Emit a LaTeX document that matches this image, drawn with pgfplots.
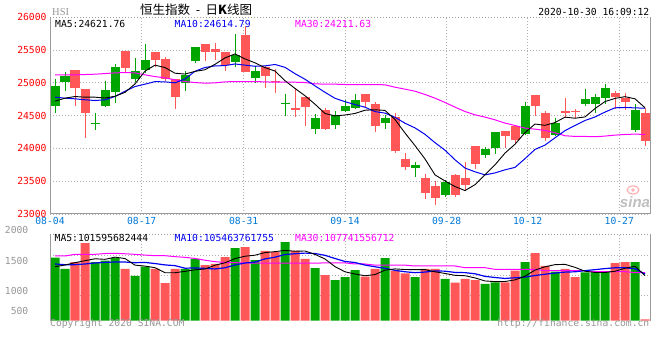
\documentclass[border=0pt]{standalone}
\usepackage{fontspec}
\usepackage{pgfplots}
\pgfplotsset{compat=1.18}
\usepackage{pgfplotstable}
\setmainfont{DejaVu Sans}
\newfontfamily\mono{DejaVu Sans Mono}
\newfontfamily\cjk{Noto Sans CJK SC}
\newfontfamily\hsifont{Liberation Serif}
\newfontfamily\logofont{Liberation Sans}
\newcommand\monof{\mono\fontsize{9.7bp}{11bp}\selectfont}
\definecolor{cgreen}{RGB}{0,165,0}
\definecolor{cred}{RGB}{255,87,87}
\definecolor{tickblue}{RGB}{0,120,215}
\definecolor{lgray}{RGB}{150,150,150}
\definecolor{gridgray}{RGB}{175,175,175}
\definecolor{framegray}{RGB}{155,155,155}
\definecolor{mablue}{RGB}{0,0,240}
\definecolor{mamag}{RGB}{255,0,255}

\pgfplotstableread{
i lo hi l h
0 24653 24957 24537 25059
1 25018 25105 24871 25160
4 24366 24381 24273 24542
5 24653 24892 24645 25023
6 24866 25241 24689 25287
8 25064 25181 25008 25378
9 25201 25348 25145 25591
13 25003 25115 24871 25176
14 25338 25551 25302 25551
18 25323 25424 25246 25743
20 25079 25176 24998 25252
23 24674 24689 24486 24821
26 24288 24461 24212 24527
28 24349 24511 24288 24572
29 24562 24648 24547 24740
30 24608 24740 24600 24831
33 24380 24461 24293 24511
36 23700 23751 23558 23797
39 23284 23492 23259 23513
43 23893 23994 23852 24020
44 23999 24253 23908 24253
47 24212 24648 24205 24704
50 24202 24390 24200 24461
53 24679 24755 24653 24907
54 24679 24785 24537 24826
55 24765 24927 24674 24978
58 24283 24587 24253 24679
}\upc

\pgfplotstableread{
i lo hi l h
2 24927 25196 24638 25196
3 24537 24907 24162 24907
7 25221 25490 25145 25490
10 25348 25470 25246 25470
11 25059 25368 25023 25388
12 24790 25054 24603 25054
15 25475 25591 25338 25591
16 25475 25520 25348 25606
17 25272 25470 25176 25470
19 25170 25728 25170 25860
21 25110 25236 24927 25262
22 25008 25023 24851 25216
24 24582 24613 24471 24927
25 24623 24785 24334 24785
27 24298 24587 24290 24618
31 24709 24831 24628 24831
32 24334 24679 24243 24709
34 23954 24481 23928 24542
35 23710 23842 23675 23923
37 23320 23553 23229 23604
38 23244 23431 23132 23502
40 23284 23599 23254 23614
41 23447 23553 23371 23791
42 23766 24040 23680 24040
45 24182 24268 24009 24268
46 24121 24344 24070 24344
48 24653 24816 24486 24816
49 24151 24542 24106 24567
51 24537 24572 24466 24770
52 24560 24575 24466 24603
56 24775 24851 24593 24876
57 24699 24770 24577 24841
59 24106 24542 24035 24613
}\downc

\pgfplotstableread{
i ma5 ma10 ma30
0 24719 24780 25120
1 24765 24765 25120
2 24790 24755 25120
3 24780 24740 25125
4 24780 24729 25130
5 24767 24740 25140
6 24794 24790 25150
7 24853 24871 25155
8 24982 24942 25150
9 25177 24978 25120
10 25268 25017 25094
11 25231 25013 25074
12 25145 24999 25044
13 25132 25057 25018
14 25173 25175 25003
15 25198 25233 24993
16 25281 25256 24998
17 25378 25261 25013
18 25439 25286 25018
19 25363 25268 25018
20 25303 25251 25018
21 25230 25256 25013
22 25178 25278 25008
23 25031 25235 25008
24 24913 25138 25008
25 24802 25053 25003
26 24673 24952 24983
27 24531 24854 24978
28 24495 24763 24978
29 24508 24711 24973
30 24532 24667 24973
31 24581 24627 24973
32 24588 24560 24973
33 24578 24537 24968
34 24440 24474 24932
35 24234 24383 24902
36 24042 24312 24871
37 23839 24214 24821
38 23596 24087 24765
39 23503 23972 24699
40 23418 23826 24628
41 23357 23700 24562
42 23447 23643 24511
43 23597 23596 24476
44 23749 23626 24435
45 23928 23673 24385
46 24063 23710 24349
47 24240 23843 24309
48 24371 23984 24293
49 24351 24050 24273
50 24393 24161 24238
51 24476 24270 24192
52 24459 24349 24182
53 24479 24425 24182
54 24606 24478 24177
55 24713 24553 24187
56 24761 24618 24202
57 24788 24623 24212
58 24755 24617 24217
59 24619 24612 24212
}\matab

\pgfplotstableread{
i v
0 1407
1 1154
4 1310
5 1340
6 1400
8 997
9 1205
13 1154
14 1378
18 1624
20 1355
23 1758
26 1176
28 907
29 974
30 1131
33 1400
36 974
39 930
43 818
44 855
47 1310
50 1094
53 1079
54 1079
55 1094
58 1310
}\upv

\pgfplotstableread{
i v
2 1310
3 1736
7 1154
10 1154
11 840
12 1154
15 1243
16 1266
17 1422
19 1646
21 1557
22 1534
24 1557
25 1378
27 1019
31 981
32 1154
34 1116
35 1057
37 1154
38 1154
40 847
41 930
42 907
45 855
46 1116
48 1512
49 1221
51 1154
52 974
56 1288
57 1310
59 27
}\downv

\pgfplotstableread{
i m5 m10 m30
0 1205 1266 1445
1 1243 1250 1445
2 1295 1250 1482
3 1340 1266 1482
4 1383 1288 1482
5 1370 1303 1500
6 1419 1310 1505
7 1388 1310 1495
8 1240 1295 1482
9 1219 1301 1465
10 1182 1276 1452
11 1070 1245 1452
12 1070 1229 1430
13 1101 1171 1415
14 1136 1178 1390
15 1154 1168 1350
16 1239 1155 1318
17 1293 1181 1300
18 1387 1244 1295
19 1440 1288 1290
20 1463 1308 1285
21 1521 1380 1285
22 1543 1418 1285
23 1570 1478 1285
24 1552 1496 1285
25 1557 1510 1285
26 1481 1501 1285
27 1378 1460 1290
28 1207 1389 1290
29 1091 1322 1290
30 1041 1299 1266
31 1002 1242 1266
32 1029 1204 1240
33 1128 1168 1240
34 1156 1124 1240
35 1142 1092 1240
36 1140 1071 1221
37 1140 1085 1221
38 1091 1110 1221
39 1054 1105 1221
40 1012 1077 1221
41 1003 1072 1183
42 954 1047 1183
43 886 989 1183
44 871 963 1146
45 873 942 1146
46 910 957 1146
47 991 972 1146
48 1130 1008 1146
49 1203 1037 1116
50 1251 1062 1116
51 1258 1084 1116
52 1191 1091 1116
53 1104 1117 1116
54 1076 1139 1094
55 1076 1163 1094
56 1103 1181 1094
57 1170 1181 1094
58 1216 1160 1072
59 1006 1041 1072
}\vmatab

\begin{document}
\begin{tikzpicture}
\useasboundingbox (0bp,0bp) rectangle (660bp,360bp);

% ---------- main candlestick panel ----------
\begin{axis}[
  at={(50bp,146bp)}, anchor=south west, scale only axis,
  width=600bp, height=196.9bp,
  xmin=-0.5, xmax=59.5, ymin=23000, ymax=26000,
  scaled x ticks=false, scaled y ticks=false,
  axis line style={draw=none},
  major tick length=0pt,
  xtick={-0.5,8.67,18.87,29,39.17,47.27,56.43},
  xticklabels={08-04,08-17,08-31,09-14,09-28,10-12,10-27},
  ytick={23000,23500,24000,24500,25000,25500,26000},
  yticklabels={23000,23500,24000,24500,25000,25500,26000},
  grid=major,
  grid style={draw=gridgray, line width=0.8bp, dash pattern=on 1bp off 2bp},
  xticklabel style={font=\monof, text=tickblue},
  yticklabel style={font=\monof, text=red},
  clip=false,
]
% wicks
\addplot[draw=none, mark=none, forget plot, error bars/.cd, y dir=both, y explicit, error mark=none,
  error bar style={draw=cgreen, line width=1bp, solid}]
  table[x=i, y=lo, y error plus expr=\thisrow{h}-\thisrow{lo}, y error minus expr=\thisrow{lo}-\thisrow{l}] {\upc};
\addplot[draw=none, mark=none, forget plot, error bars/.cd, y dir=both, y explicit, error mark=none,
  error bar style={draw=cred, line width=1bp, solid}]
  table[x=i, y=lo, y error plus expr=\thisrow{h}-\thisrow{lo}, y error minus expr=\thisrow{lo}-\thisrow{l}] {\downc};
% bodies
\addplot[draw=none, mark=none, forget plot, error bars/.cd, y dir=plus, y explicit, error mark=none,
  error bar style={draw=cgreen, line width=9bp, solid}]
  table[x=i, y=lo, y error plus expr=\thisrow{hi}-\thisrow{lo}] {\upc};
\addplot[draw=none, mark=none, forget plot, error bars/.cd, y dir=plus, y explicit, error mark=none,
  error bar style={draw=cred, line width=9bp, solid}]
  table[x=i, y=lo, y error plus expr=\thisrow{hi}-\thisrow{lo}] {\downc};
% moving averages
\addplot[mamag, line width=1bp, mark=none] table[x=i, y=ma30] {\matab};
\addplot[mablue, line width=1bp, mark=none] table[x=i, y=ma10] {\matab};
\addplot[black, line width=0.9bp, mark=none] table[x=i, y=ma5] {\matab};
% frame
\draw[framegray, line width=1bp] (rel axis cs:0,1) -- (rel axis cs:0,0) -- (rel axis cs:1,0) -- (rel axis cs:1,1);
\draw[framegray, line width=1bp, dash pattern=on 1bp off 2bp] (rel axis cs:0,1) -- (rel axis cs:1,1);
\end{axis}

% ---------- volume panel ----------
\begin{axis}[
  at={(50bp,39.5bp)}, anchor=south west, scale only axis,
  width=600bp, height=86.2bp,
  xmin=-0.5, xmax=59.5, ymin=0, ymax=1931,
  scaled x ticks=false, scaled y ticks=false,
  axis line style={draw=none},
  major tick length=0pt,
  xtick={8.67,18.87,29,39.17,47.27,56.43},
  xticklabels={},
  ytick={571,1019,1467},
  yticklabels={},
  grid=major,
  grid style={draw=gridgray, line width=0.8bp, dash pattern=on 1bp off 2bp},
  clip=false,
]
\addplot[ybar, bar width=9bp, bar shift=0pt, fill=cgreen, draw=none] table[x=i, y=v] {\upv};
\addplot[ybar, bar width=9bp, bar shift=0pt, fill=cred, draw=none] table[x=i, y=v] {\downv};
\addplot[mamag, line width=1bp, mark=none] table[x=i, y=m30] {\vmatab};
\addplot[mablue, line width=1.2bp, mark=none] table[x=i, y=m10] {\vmatab};
\addplot[black, line width=0.9bp, mark=none] table[x=i, y=m5] {\vmatab};
\draw[framegray, line width=1bp] (rel axis cs:0,0) -- (rel axis cs:0,1);
\draw[framegray, line width=1bp] (rel axis cs:1,0) -- (rel axis cs:1,1);
\draw[framegray, line width=1bp, dash pattern=on 1bp off 2bp] (rel axis cs:0,1) -- (rel axis cs:1,1);
\end{axis}

% ---------- texts ----------
\begin{scope}[x=1bp,y=1bp]
\node[anchor=west, inner sep=0, text=lgray, font=\hsifont\fontsize{10.5bp}{12bp}\selectfont] at (52,348) {HSI};
\node[anchor=west, inner sep=0, font=\cjk\fontsize{12.5bp}{14bp}\selectfont] at (140,350) {恒生指数\ \ -\ \ 日\textbf{K}线图};
\node[anchor=east, inner sep=0, font=\monof] at (649.5,347.7) {2020-10-30 16:09:12};

\node[anchor=west, inner sep=0, font=\monof, text=black] at (55,336) {MA5:24621.76};
\node[anchor=west, inner sep=0, font=\monof, text=mablue] at (174.5,336) {MA10:24614.79};
\node[anchor=west, inner sep=0, font=\monof, text=mamag] at (295,336) {MA30:24211.63};

\node[anchor=west, inner sep=0, font=\monof, text=black] at (54.5,121.7) {MA5:101595682444};
\node[anchor=west, inner sep=0, font=\monof, text=mablue] at (174.5,121.7) {MA10:105463761755};
\node[anchor=west, inner sep=0, font=\monof, text=mamag] at (295,121.7) {MA30:107741556712};

\node[anchor=east, inner sep=0, font=\monof, text=lgray] at (28.5,130) {2000};
\node[anchor=east, inner sep=0, font=\monof, text=lgray] at (28.5,99.5) {1500};
\node[anchor=east, inner sep=0, font=\monof, text=lgray] at (28.5,69) {1000};
\node[anchor=east, inner sep=0, font=\monof, text=lgray] at (28.5,49) {500};

\node[anchor=west, inner sep=0, font=\monof, text=lgray] at (50,36) {Copyright 2020 SINA.COM};
\node[anchor=east, inner sep=0, font=\monof, text=lgray] at (649.5,36) {http://finance.sina.com.cn};

% sina watermark
\draw[red!30, line width=1.2bp] (633,170) ellipse (6 and 4);
\fill[red!30] (633,170) circle (1.8);
\node[inner sep=0, text=black!25, font=\logofont\bfseries\itshape\fontsize{15bp}{16bp}\selectfont] at (635,158) {sina};
\end{scope}
\end{tikzpicture}
\end{document}
